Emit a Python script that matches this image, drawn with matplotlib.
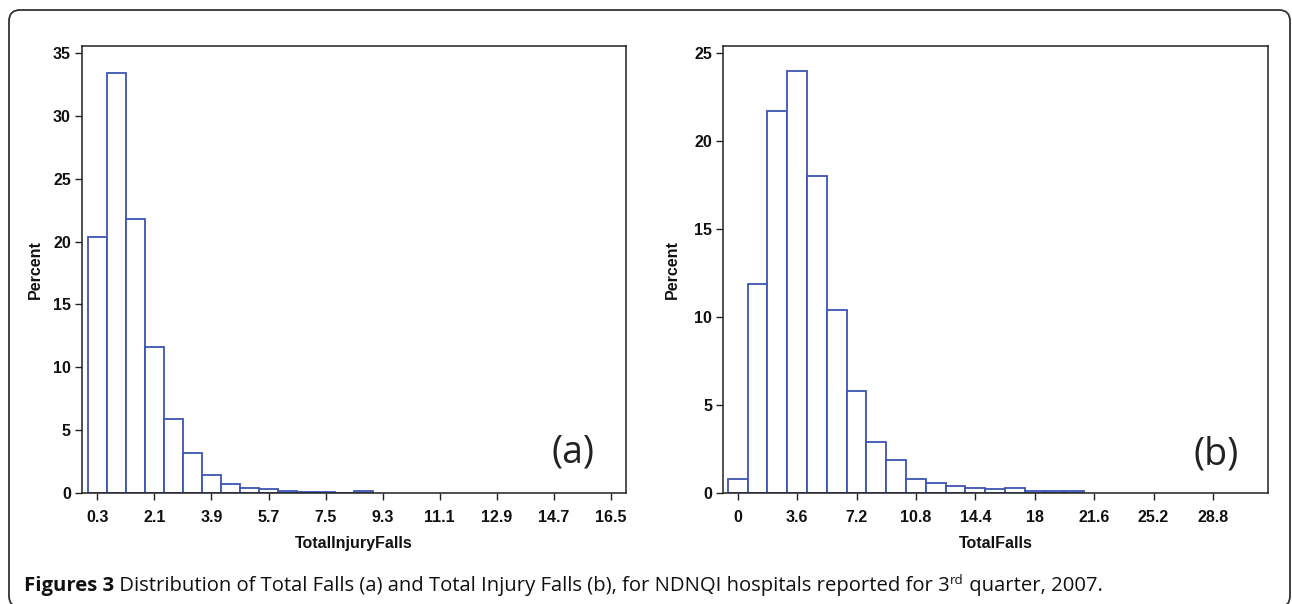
import matplotlib
matplotlib.use('Agg')
import matplotlib.pyplot as plt
from matplotlib.patches import FancyBboxPatch
from matplotlib.transforms import IdentityTransform

# --- DATA ---
# (a) TotalInjuryFalls: bin midpoints, bin width 0.6
injury_mid = [0.3, 0.9, 1.5, 2.1, 2.7, 3.3, 3.9, 4.5, 5.1, 5.7, 6.3, 6.9, 7.5, 8.1, 8.7]
injury_pct = [20.4, 33.4, 21.8, 11.6, 5.9, 3.2, 1.45, 0.75, 0.4, 0.3, 0.12, 0.1, 0.1, 0.0, 0.14]
injury_ticks = [0.3, 2.1, 3.9, 5.7, 7.5, 9.3, 11.1, 12.9, 14.7, 16.5]
injury_yticks = [0, 5, 10, 15, 20, 25, 30, 35]

# (b) TotalFalls: bin midpoints, bin width 1.2
falls_mid = [0, 1.2, 2.4, 3.6, 4.8, 6.0, 7.2, 8.4, 9.6, 10.8, 12.0, 13.2, 14.4, 15.6, 16.8, 18.0, 19.2, 20.4]
falls_pct = [0.8, 11.9, 21.7, 24.0, 18.0, 10.4, 5.8, 2.9, 1.9, 0.8, 0.55, 0.37, 0.28, 0.2, 0.3, 0.1, 0.1, 0.1]
falls_ticks = [0, 3.6, 7.2, 10.8, 14.4, 18, 21.6, 25.2, 28.8]
falls_tick_labels = ['0', '3.6', '7.2', '10.8', '14.4', '18', '21.6', '25.2', '28.8']
falls_yticks = [0, 5, 10, 15, 20, 25]

caption_parts = [
    ('Figures 3', 'bold'),
    (' Distribution of Total Falls (a) and Total Injury Falls (b), for NDNQI hospitals reported for 3', 'normal'),
    ('rd', 'sup'),
    (' quarter, 2007.', 'normal'),
]

# --- STYLE ---
BAR_EDGE = '#3D55B4'
SAS_FONT = ['Liberation Sans', 'DejaVu Sans']
W, H = 1292, 604

fig = plt.figure(figsize=(W / 100, H / 100), dpi=100)
fig.patch.set_facecolor('white')

# rounded outer frame, in pixels (y up): left 9, right 1290, top at 10 px from top
frame = FancyBboxPatch((9, -3), 1290 - 9, (H - 10) + 3,
                       boxstyle='round,pad=0,rounding_size=11',
                       transform=IdentityTransform(), fill=False,
                       edgecolor='#333333', linewidth=1.3, clip_on=False)
fig.patches.append(frame)


def style_axes(ax, xticks, xlabels, yticks, xlim, ylim, xlabel):
    ax.set_xlim(*xlim)
    ax.set_ylim(*ylim)
    ax.set_xticks(xticks)
    ax.set_xticklabels(xlabels)
    ax.set_yticks(yticks)
    ax.set_yticklabels([str(v) for v in yticks])
    ax.tick_params(direction='out', length=5, width=1.0, color='#222222')
    ax.tick_params(axis='x', pad=7)
    ax.tick_params(axis='y', pad=3)
    for lab in ax.get_xticklabels() + ax.get_yticklabels():
        lab.set_family(SAS_FONT)
        lab.set_fontweight('bold')
        lab.set_fontsize(11.5)
        lab.set_color('#111111')
    for sp in ax.spines.values():
        sp.set_linewidth(1.1)
        sp.set_color('#222222')
    ax.set_ylabel('Percent', family=SAS_FONT, fontweight='bold', fontsize=11.5, color='#111111')
    ax.set_xlabel(xlabel, family=SAS_FONT, fontweight='bold', fontsize=11.5, color='#111111')


# --- (a) left panel ---
ax1 = fig.add_axes([82 / W, 1 - 493 / H, (626.3 - 82) / W, (493 - 46.4) / H])
ax1.bar(injury_mid, injury_pct, width=0.6, align='center', facecolor='white',
        edgecolor=BAR_EDGE, linewidth=1.3)
style_axes(ax1, injury_ticks, [f'{v:.1f}' for v in injury_ticks], injury_yticks,
           (-0.18, 16.98), (0, 35.52), 'TotalInjuryFalls')
ax1.yaxis.set_label_coords(-0.072, 0.5)
ax1.xaxis.set_label_coords(0.5, -0.097)
fig.text(573 / W, 1 - 452 / H, '(a)', family=['Open Sans', 'DejaVu Sans'], fontsize=27,
         color='#222222', ha='center', va='center')

# --- (b) right panel ---
ax2 = fig.add_axes([723.2 / W, 1 - 493 / H, (1267.9 - 723.2) / W, (493 - 46.4) / H])
ax2.bar(falls_mid, falls_pct, width=1.2, align='center', facecolor='white',
        edgecolor=BAR_EDGE, linewidth=1.3)
style_axes(ax2, falls_ticks, falls_tick_labels, falls_yticks,
           (-0.88, 32.13), (0, 25.37), 'TotalFalls')
ax2.yaxis.set_label_coords(-0.079, 0.5)
ax2.xaxis.set_label_coords(0.5, -0.097)
fig.text(1216 / W, 1 - 454 / H, '(b)', family=['Open Sans', 'DejaVu Sans'], fontsize=27,
         color='#222222', ha='center', va='center')

# --- caption, built piece by piece ---
fig.canvas.draw()
renderer = fig.canvas.get_renderer()
x = 24 / W
y = 1 - 591.5 / H
cap_font = ['Open Sans', 'DejaVu Sans']
for txt, kind in caption_parts:
    if kind == 'sup':
        t = fig.text(x, y + 8 / H, txt, family=cap_font, fontsize=9.6, color='#111111', va='baseline')
    else:
        t = fig.text(x, y, txt, family=cap_font, fontsize=14.6, color='#111111', va='baseline',
                     fontweight='bold' if kind == 'bold' else 'normal')
    x += t.get_window_extent(renderer).width / W

fig.savefig('out.png', dpi=100)
